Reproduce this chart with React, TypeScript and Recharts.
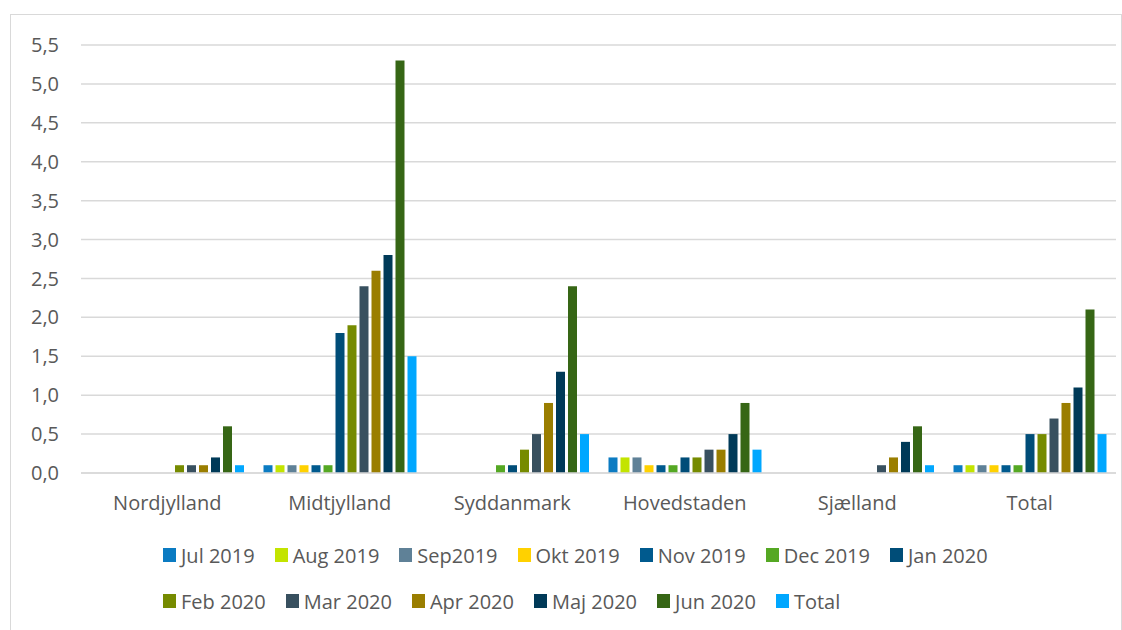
import { Bar, BarChart, CartesianGrid, XAxis, YAxis } from "recharts";

const regions = ["Nordjylland", "Midtjylland", "Syddanmark", "Hovedstaden", "Sjælland", "Total"];

const jul2019 = [0, 0.1, 0, 0.2, 0, 0.1];
const aug2019 = [0, 0.1, 0, 0.2, 0, 0.1];
const sep2019 = [0, 0.1, 0, 0.2, 0, 0.1];
const okt2019 = [0, 0.1, 0, 0.1, 0, 0.1];
const nov2019 = [0, 0.1, 0, 0.1, 0, 0.1];
const dec2019 = [0, 0.1, 0.1, 0.1, 0, 0.1];
const jan2020 = [0, 1.8, 0.1, 0.2, 0, 0.5];
const feb2020 = [0.1, 1.9, 0.3, 0.2, 0, 0.5];
const mar2020 = [0.1, 2.4, 0.5, 0.3, 0.1, 0.7];
const apr2020 = [0.1, 2.6, 0.9, 0.3, 0.2, 0.9];
const maj2020 = [0.2, 2.8, 1.3, 0.5, 0.4, 1.1];
const jun2020 = [0.6, 5.3, 2.4, 0.9, 0.6, 2.1];
const total = [0.1, 1.5, 0.5, 0.3, 0.1, 0.5];

const yTicks = [0, 0.5, 1, 1.5, 2, 2.5, 3, 3.5, 4, 4.5, 5, 5.5];

const series = [
  { key: "jul", name: "Jul 2019", values: jul2019, color: "#0b7bc2" },
  { key: "aug", name: "Aug 2019", values: aug2019, color: "#c3e400" },
  { key: "sep", name: "Sep2019", values: sep2019, color: "#5f8197" },
  { key: "okt", name: "Okt 2019", values: okt2019, color: "#ffd100" },
  { key: "nov", name: "Nov 2019", values: nov2019, color: "#005a8e" },
  { key: "dec", name: "Dec 2019", values: dec2019, color: "#55a823" },
  { key: "jan", name: "Jan 2020", values: jan2020, color: "#004d78" },
  { key: "feb", name: "Feb 2020", values: feb2020, color: "#768b00" },
  { key: "mar", name: "Mar 2020", values: mar2020, color: "#38505f" },
  { key: "apr", name: "Apr 2020", values: apr2020, color: "#9a7e00" },
  { key: "maj", name: "Maj 2020", values: maj2020, color: "#003a58" },
  { key: "jun", name: "Jun 2020", values: jun2020, color: "#366615" },
  { key: "total", name: "Total", values: total, color: "#00a7ff" },
];

const data = regions.map((region, i) => {
  const row: Record<string, string | number> = { region };
  series.forEach((s) => {
    row[s.key] = s.values[i];
  });
  return row;
});

const font = "'Open Sans', 'Liberation Sans', sans-serif";
const textColor = "#595959";

export default function App() {
  return (
    <div
      style={{
        position: "absolute",
        left: 10,
        top: 14,
        width: 1110,
        height: 620,
        border: "1px solid #d9d9d9",
        background: "#fff",
        fontFamily: font,
      }}
    >
      <BarChart
        width={1110}
        height={616}
        data={data}
        barSize={9}
        barGap={3}
        margin={{ top: 30, right: 5, bottom: 118, left: 0 }}
      >
        <CartesianGrid vertical={false} stroke="#d9d9d9" strokeWidth={1.5} />
        <XAxis
          dataKey="region"
          axisLine={{ stroke: "#d9d9d9", strokeWidth: 1.5 }}
          tickLine={false}
          tickMargin={17}
          height={40}
          tick={{ fontSize: 20, fill: textColor, fontFamily: font }}
        />
        <YAxis
          width={70}
          domain={[0, 5.5]}
          ticks={yTicks}
          interval={0}
          axisLine={false}
          tickLine={false}
          tickSize={0}
          tickMargin={22}
          tickFormatter={(v: number) => v.toFixed(1).replace(".", ",")}
          tick={{ fontSize: 20, fill: textColor, fontFamily: font }}
        />
        {series.map((s) => (
          <Bar
            key={s.key}
            dataKey={s.key}
            name={s.name}
            fill={s.color}
            isAnimationActive={false}
          />
        ))}
      </BarChart>
      <div
        style={{
          position: "absolute",
          left: 152,
          top: 526,
          width: 880,
          display: "flex",
          flexWrap: "wrap",
          columnGap: 20,
          rowGap: 18,
        }}
      >
        {series.map((s) => (
          <div
            key={s.key}
            style={{ display: "flex", alignItems: "center", height: 28 }}
          >
            <span
              style={{
                display: "inline-block",
                width: 13,
                height: 14,
                background: s.color,
                marginRight: 5,
              }}
            />
            <span style={{ fontSize: 20, color: textColor }}>{s.name}</span>
          </div>
        ))}
      </div>
    </div>
  );
}
